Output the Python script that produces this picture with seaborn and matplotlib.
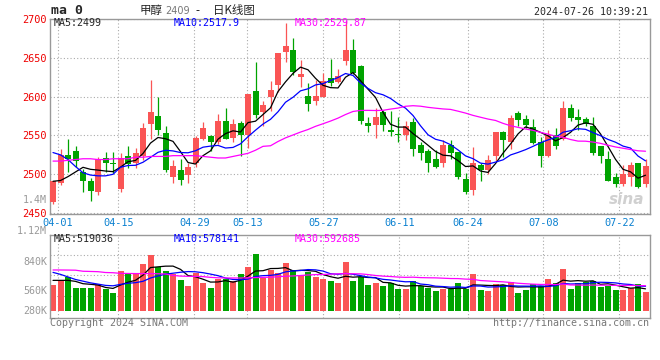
import numpy as np
import pandas as pd
import matplotlib
matplotlib.use('Agg')
import matplotlib.pyplot as plt
import seaborn as sns

# daily candles 03-29 .. 07-26 (80 sessions)
opens = [2464, 2489, 2525, 2530, 2503, 2492, 2477, 2521, 2515, 2481,
         2524, 2514, 2524, 2565, 2575, 2553, 2496, 2506, 2499, 2514,
         2546, 2549, 2542, 2569, 2547, 2566, 2550, 2607, 2580, 2599,
         2615, 2658, 2660, 2625, 2601, 2594, 2600, 2624, 2619, 2646,
         2660, 2639, 2566, 2563, 2580, 2557, 2552, 2550, 2567, 2538,
         2530, 2520, 2514, 2538, 2529, 2494, 2480, 2512, 2505, 2523,
         2554, 2542, 2579, 2571, 2561, 2541, 2523, 2550, 2545, 2586,
         2574, 2571, 2562, 2536, 2520, 2496, 2487, 2496, 2515, 2487]
highs = [2491, 2533, 2546, 2536, 2507, 2495, 2522, 2529, 2529, 2527,
         2537, 2534, 2566, 2621, 2600, 2562, 2518, 2520, 2515, 2549,
         2567, 2551, 2578, 2586, 2571, 2569, 2603, 2644, 2594, 2620,
         2656, 2695, 2675, 2647, 2617, 2622, 2630, 2648, 2635, 2697,
         2674, 2641, 2574, 2585, 2583, 2582, 2574, 2569, 2572, 2541,
         2532, 2531, 2544, 2544, 2529, 2502, 2535, 2514, 2525, 2555,
         2556, 2577, 2581, 2577, 2571, 2548, 2557, 2559, 2594, 2591,
         2584, 2574, 2574, 2536, 2530, 2502, 2512, 2516, 2515, 2520]
lows = [2462, 2486, 2503, 2510, 2477, 2465, 2473, 2503, 2502, 2477,
        2508, 2508, 2519, 2546, 2551, 2503, 2489, 2486, 2489, 2510,
        2544, 2530, 2539, 2545, 2542, 2524, 2534, 2573, 2562, 2582,
        2606, 2644, 2628, 2613, 2582, 2589, 2599, 2614, 2617, 2641,
        2629, 2565, 2555, 2547, 2556, 2549, 2541, 2544, 2524, 2518,
        2503, 2508, 2510, 2520, 2494, 2475, 2473, 2491, 2501, 2517,
        2522, 2532, 2562, 2559, 2539, 2510, 2522, 2532, 2544, 2569,
        2557, 2562, 2525, 2514, 2491, 2484, 2485, 2485, 2482, 2483]
closes = [2491, 2525, 2520, 2517, 2492, 2478, 2520, 2514, 2513, 2521,
          2513, 2528, 2559, 2580, 2557, 2505, 2511, 2493, 2510, 2547,
          2559, 2542, 2568, 2546, 2565, 2551, 2603, 2577, 2589, 2608,
          2656, 2665, 2632, 2629, 2591, 2601, 2620, 2617, 2627, 2660,
          2631, 2568, 2562, 2574, 2564, 2554, 2550, 2562, 2532, 2528,
          2515, 2510, 2538, 2528, 2497, 2477, 2514, 2505, 2519, 2554,
          2544, 2573, 2570, 2564, 2540, 2523, 2551, 2537, 2586, 2573,
          2570, 2565, 2528, 2524, 2492, 2487, 2501, 2512, 2483, 2511]
# volume, thousands of lots
volumes_k = [608, 727, 790, 537, 537, 537, 640, 506, 419, 940,
             869, 869, 1114, 1319, 1027, 948, 877, 727, 585, 885,
             656, 537, 743, 743, 703, 877, 1035, 1343, 782, 956,
             893, 1130, 964, 845, 924, 806, 751, 703, 664, 1153,
             703, 806, 608, 656, 585, 648, 514, 514, 703, 585,
             537, 466, 514, 506, 656, 514, 869, 490, 466, 632,
             608, 679, 419, 490, 632, 593, 751, 656, 988, 514,
             656, 679, 703, 569, 585, 490, 490, 537, 632, 442]

# moving-average values before enough sessions exist in this window
ma5_head = [2491, 2492, 2497, 2503]
ma10_head = [2528, 2525, 2519, 2510, 2502, 2499, 2498, 2498, 2500]
ma30_head = [2517, 2517, 2518, 2519, 2520, 2520, 2519, 2519, 2520, 2520,
             2520, 2522, 2522, 2523, 2523, 2523, 2524, 2524, 2524, 2524,
             2523, 2522, 2521, 2521, 2523, 2525, 2527, 2531, 2536]
vma5_head = [719, 719, 719, 695]
vma10_head = [908, 861, 800, 740, 700, 660, 630, 600, 590]
vma30_head = [965, 965, 963, 960, 935, 930, 925, 905, 900, 885,
              882, 880, 880, 878, 876, 870, 835, 820, 815, 812,
              808, 790, 780, 776, 775, 775, 780, 785, 790]

date_labels = ['04-01', '04-15', '04-29', '05-13', '05-27', '06-11', '06-24', '07-08', '07-22']
date_idx = [1, 9, 19, 26, 36, 46, 55, 65, 75]

RED = '#fa5555'
GREEN = '#00a300'
GRID = '#aaaaaa'
SPINE = '#999999'


def with_head(values, head):
    s = pd.Series(values, dtype=float).rolling(len(head) + 1).mean()
    return np.r_[head, s.values[len(head):]]


o = np.array(opens, float)
h = np.array(highs, float)
l = np.array(lows, float)
c = np.array(closes, float)
vol = np.array(volumes_k, float) * 1000
x = np.arange(len(c))
col = np.where(c >= o, RED, GREEN)

ma5 = with_head(closes, ma5_head)
ma10 = with_head(closes, ma10_head)
ma30 = with_head(closes, ma30_head)
vma5 = with_head(vol, np.array(vma5_head) * 1000)
vma10 = with_head(vol, np.array(vma10_head) * 1000)
vma30 = with_head(vol, np.array(vma30_head) * 1000)

sns.set_style('white')
plt.rcParams['font.family'] = ['DejaVu Sans Mono']

W, H = 660, 360
fig = plt.figure(figsize=(W / 100, H / 100), dpi=100)


def box(left, top, right, bottom):
    return [left / W, 1 - bottom / H, (right - left) / W, (bottom - top) / H]


def ftext(px, py, s, **kw):
    fig.text(px / W, 1 - py / H, s, **kw)


ax = fig.add_axes(box(50, 19, 649.5, 213.5))
axv = fig.add_axes(box(50, 234.7, 649.5, 318.3))

# grid position of each date label (the chart's grid runs slightly wider than the candles)
tick_pos = [0.63 + (d - 1) * 1.0119 for d in date_idx]

# candles
ax.vlines(x, l, h, colors=col, lw=0.9, zorder=2)
ax.bar(x, np.maximum(np.abs(c - o), 0.9), bottom=np.minimum(o, c), width=0.8,
       color=col, lw=0, zorder=3)
sns.lineplot(x=x, y=ma5, color='black', lw=0.9, ax=ax, zorder=4)
sns.lineplot(x=x, y=ma10, color='#0000ff', lw=0.9, ax=ax, zorder=4)
sns.lineplot(x=x, y=ma30, color='#ff00ff', lw=0.9, ax=ax, zorder=4)

ax.set_xlim(-0.4, 79.53)
ax.set_ylim(2449.5, 2700)
ax.set_yticks([2450, 2500, 2550, 2600, 2650, 2700])
ax.set_yticklabels(['2450', '2500', '2550', '2600', '2650', '2700'], color='#ee0000', fontsize=7.4)
ax.set_xticks(tick_pos)
ax.set_xticklabels(date_labels, color='#0a80d0', fontsize=7.4)
ax.tick_params(length=0, pad=2.5)
ax.tick_params(axis='x', pad=3.5)
ax.grid(True, ls=(0, (1, 2)), color=GRID, lw=0.8)
ax.set_axisbelow(True)
ax.set_xlabel('')
ax.set_ylabel('')
ax.text(78.8, 2458, 'sina', ha='right', va='bottom', fontsize=11, color='#d0d0d0',
        style='italic', weight='bold', family='DejaVu Sans', zorder=1)

# volume
axv.bar(x, vol, width=0.8, color=col, lw=0, zorder=2)
sns.lineplot(x=x, y=vma5, color='black', lw=0.9, ax=axv, zorder=4)
sns.lineplot(x=x, y=vma10, color='#0000ff', lw=0.9, ax=axv, zorder=4)
sns.lineplot(x=x, y=vma30, color='#ff00ff', lw=0.9, ax=axv, zorder=4)
axv.set_xlim(-0.4, 79.53)
axv.set_ylim(-180e3, 1801e3)
axv.set_yticks([356e3, 839e3, 1320e3])
axv.set_yticklabels([])
axv.set_xticks(tick_pos)
axv.set_xticklabels([])
axv.tick_params(length=0)
axv.grid(True, ls=(0, (1, 2)), color=GRID, lw=0.8)
axv.set_axisbelow(True)
axv.set_xlabel('')
axv.set_ylabel('')

for a in (ax, axv):
    for sp in a.spines.values():
        sp.set_color(SPINE)
        sp.set_linewidth(1)

# header
ftext(51, 11, 'ma 0', fontsize=9.5, weight='bold', va='center')
cjk = ['Noto Sans CJK SC', 'DejaVu Sans']
ftext(140, 10.5, '甲醇', fontsize=8.3, family=cjk, va='center')
ftext(165, 10.5, '2409', fontsize=7, color='#777777', family='DejaVu Sans', va='center')
ftext(195, 10.5, '-', fontsize=8.3, family=cjk, va='center')
ftext(213, 10.5, '日K线图', fontsize=8.3, family=cjk, va='center')
ftext(648, 12, '2024-07-26 10:39:21', fontsize=7.2, ha='right', va='center')

ftext(54, 23.5, 'MA5:%d' % round(ma5[-1]), fontsize=7.2, va='center')
ftext(174, 23.5, 'MA10:%.1f' % 2517.9, fontsize=7.2, color='#0000ff', va='center')
ftext(295, 23.5, 'MA30:%.2f' % 2529.87, fontsize=7.2, color='#ff00ff', va='center')
ftext(47, 200, '1.4M', fontsize=7.2, color='#999999', ha='right', va='center')

# volume labels
ftext(54, 238.5, 'MA5:519036', fontsize=7.2, va='center')
ftext(174, 238.5, 'MA10:578141', fontsize=7.2, color='#0000ff', va='center')
ftext(295, 238.5, 'MA30:592685', fontsize=7.2, color='#ff00ff', va='center')
for lab, py in zip(['1.12M', '840K', '560K', '280K'], [231, 261.7, 290.7, 310.7]):
    ftext(47, py, lab, fontsize=7.2, color='#999999', ha='right', va='center')

ftext(50, 323.5, 'Copyright 2024 SINA.COM', fontsize=7.2, color='#777777', va='center')
ftext(649, 323.5, 'http://finance.sina.com.cn', fontsize=7.2, color='#777777', ha='right', va='center')

fig.savefig('out.png', dpi=100)
